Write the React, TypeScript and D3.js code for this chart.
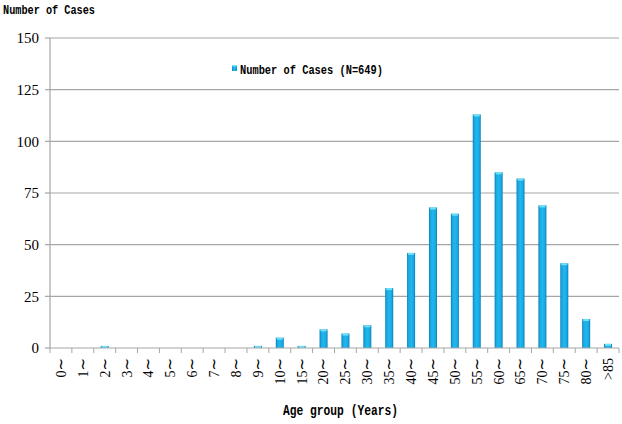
import React from "react";
import * as d3 from "d3";

const categories: string[] = [
  "0~", "1~", "2~", "3~", "4~", "5~", "6~", "7~", "8~", "9~",
  "10~", "15~", "20~", "25~", "30~", "35~", "40~", "45~", "50~", "55~",
  "60~", "65~", "70~", "75~", "80~", ">85",
];
const cases: number[] = [
  0, 0, 1, 0, 0, 0, 0, 0, 0, 1,
  5, 1, 9, 7, 11, 29, 46, 68, 65, 113,
  85, 82, 69, 41, 14, 2,
];
const yTicks: number[] = [0, 25, 50, 75, 100, 125, 150];
const seriesName = "Number of Cases (N=649)";
const yTitle = "Number of Cases";
const xTitle = "Age group (Years)";

const W = 622;
const H = 424;
const left = 50;
const right = 619;
const top = 38;
const bottom = 348;

export default function App() {
  const x = d3.scaleBand<string>().domain(categories).range([left, right]).paddingInner(0).paddingOuter(0);
  const y = d3.scaleLinear().domain([0, 150]).range([bottom, top]);
  const bw = 8;
  const serif = "'Liberation Serif', 'DejaVu Serif', serif";
  const mono = "'Liberation Mono', 'DejaVu Sans Mono', monospace";

  return (
    <svg width={W} height={H} style={{ position: "absolute", left: 0, top: 0, background: "#fff" }}>
      <defs>
        <linearGradient id="barG" x1="0" x2="1" y1="0" y2="0">
          <stop offset="0" stopColor="#0b79b0" />
          <stop offset="0.18" stopColor="#18a8e2" />
          <stop offset="0.5" stopColor="#1fb8ee" />
          <stop offset="0.82" stopColor="#18a8e2" />
          <stop offset="1" stopColor="#0b79b0" />
        </linearGradient>
      </defs>
      <rect x={0} y={0} width={W} height={H} fill="#fff" />
      {yTicks.filter((t) => t > 0).map((t) => (
        <line key={t} x1={left} x2={right} y1={y(t)} y2={y(t)} stroke="#a6a6a6" strokeWidth={1.2} />
      ))}
      <line x1={left} x2={left} y1={top} y2={bottom} stroke="#a6a6a6" strokeWidth={1.2} />
      {yTicks.map((t) => (
        <g key={t}>
          <line x1={left - 5} x2={left} y1={y(t)} y2={y(t)} stroke="#a6a6a6" strokeWidth={1.2} />
          <text x={39} y={y(t)} dy="0.35em" textAnchor="end" fontFamily={serif} fontSize={15} fill="#000">
            {t}
          </text>
        </g>
      ))}
      {categories.map((c, i) => {
        const v = cases[i];
        if (v <= 0) return null;
        const cx = (x(c) as number) + x.bandwidth() / 2;
        const y0 = y(v);
        const h = bottom - y0;
        return (
          <g key={c}>
            <rect x={cx - bw / 2} y={y0} width={bw} height={h} fill="url(#barG)" />
            <rect x={cx - bw / 2 + 1} y={y0} width={bw - 2} height={Math.min(2, h)} fill="#6fe2f7" />
          </g>
        );
      })}
      <line x1={left} x2={right} y1={bottom} y2={bottom} stroke="#a6a6a6" strokeWidth={1.2} />
      {categories.map((c) => (
        <line key={"t" + c} x1={x(c) as number} x2={x(c) as number} y1={bottom} y2={bottom + 5} stroke="#a6a6a6" strokeWidth={1} />
      ))}
      <line x1={right} x2={right} y1={bottom} y2={bottom + 5} stroke="#a6a6a6" strokeWidth={1} />
      {categories.map((c) => {
        const cx = (x(c) as number) + x.bandwidth() / 2;
        const hasTilde = c.endsWith("~");
        const body = hasTilde ? c.slice(0, -1) : c;
        return (
          <text
            key={"l" + c}
            transform={`translate(${cx},358) rotate(-90)`}
            textAnchor="end"
            dy="0.35em"
            fontFamily={serif}
            fontSize={14}
            fill="#000"
          >
            {body}
            {hasTilde ? (
              <tspan fontFamily="'DejaVu Sans', sans-serif" fontSize={15} dy="0">~</tspan>
            ) : null}
          </text>
        );
      })}
      <text x={3} y={14} fontFamily={mono} fontSize={12} fontWeight="bold" fill="#000" textLength={92} lengthAdjust="spacingAndGlyphs">
        {yTitle}
      </text>
      <text x={283} y={415} fontFamily={mono} fontSize={14} fontWeight="bold" fill="#000" textLength={115} lengthAdjust="spacingAndGlyphs">
        {xTitle}
      </text>
      <rect x={232} y={65} width={5} height={6} fill="url(#barG)" />
      <rect x={232} y={65} width={5} height={1.5} fill="#6fe2f7" />
      <text x={240} y={74} fontFamily={mono} fontSize={12} fontWeight="bold" fill="#000" textLength={143} lengthAdjust="spacingAndGlyphs">
        {seriesName}
      </text>
    </svg>
  );
}
